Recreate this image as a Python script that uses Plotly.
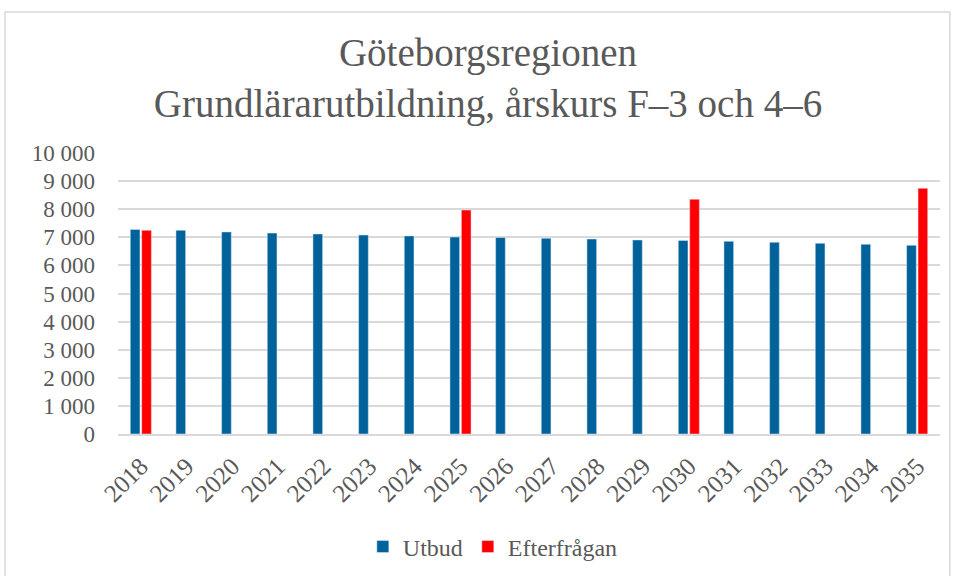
import plotly.graph_objects as go

years = [str(y) for y in range(2018, 2036)]
utbud = [7280, 7250, 7190, 7150, 7120, 7080, 7050, 7010, 6995, 6965,
         6940, 6905, 6890, 6858, 6823, 6787, 6752, 6716]
efterfragan = [7250, None, None, None, None, None, None, 7970, None, None,
               None, None, 8355, None, None, None, None, 8745]
yticks = [0, 1000, 2000, 3000, 4000, 5000, 6000, 7000, 8000, 9000, 10000]

FONT = "Liberation Serif"
GRAY = "#595959"

fig = go.Figure()
fig.add_trace(go.Bar(x=years, y=utbud, name="Utbud", marker_color="#00629B"))
fig.add_trace(go.Bar(x=years, y=efterfragan, name="Efterfrågan", marker_color="#FF0000"))

fig.update_layout(
    width=955, height=576,
    margin=dict(l=118, r=15, t=153, b=142, autoexpand=False),
    paper_bgcolor="white", plot_bgcolor="white",
    separators=", ",
    barmode="group", bargap=0.5, bargroupgap=0.15,
    font=dict(family=FONT, color=GRAY),
    title=dict(
        text="Göteborgsregionen<br>Grundlärarutbildning, årskurs F–3 och 4–6",
        x=0.511, xref="container", xanchor="center",
        y=0.885, yref="container", yanchor="middle",
        font=dict(family=FONT, size=39, color=GRAY),
    ),
    legend=dict(
        orientation="h", x=0.456, xanchor="center", y=-0.402, yanchor="middle",
        font=dict(family=FONT, size=24, color=GRAY),
        traceorder="normal",
    ),
    xaxis=dict(
        tickangle=-45, tickfont=dict(family=FONT, size=25, color=GRAY),
        showline=True, linecolor="#d9d9d9", linewidth=1.5,
        ticks="", showgrid=False, automargin=False,
        ticklabelstandoff=6,
    ),
    yaxis=dict(
        range=[0, 10000], tickvals=yticks, tickformat=",d",
        tickfont=dict(family=FONT, size=23, color=GRAY),
        showgrid=True, gridcolor="#d9d9d9", gridwidth=1.5,
        zeroline=False, ticks="", showline=False, automargin=False,
        ticklabelstandoff=22,
    ),
    shapes=[dict(
        type="rect", xref="paper", yref="paper",
        x0=-0.1375, x1=1.012, y0=-0.51, y1=1.502,
        line=dict(color="#d9d9d9", width=1.5), fillcolor="rgba(0,0,0,0)",
        layer="below",
    )],
)

fig.write_html("out.html", config={"displayModeBar": False},
               post_script="document.body.style.margin='0';")
